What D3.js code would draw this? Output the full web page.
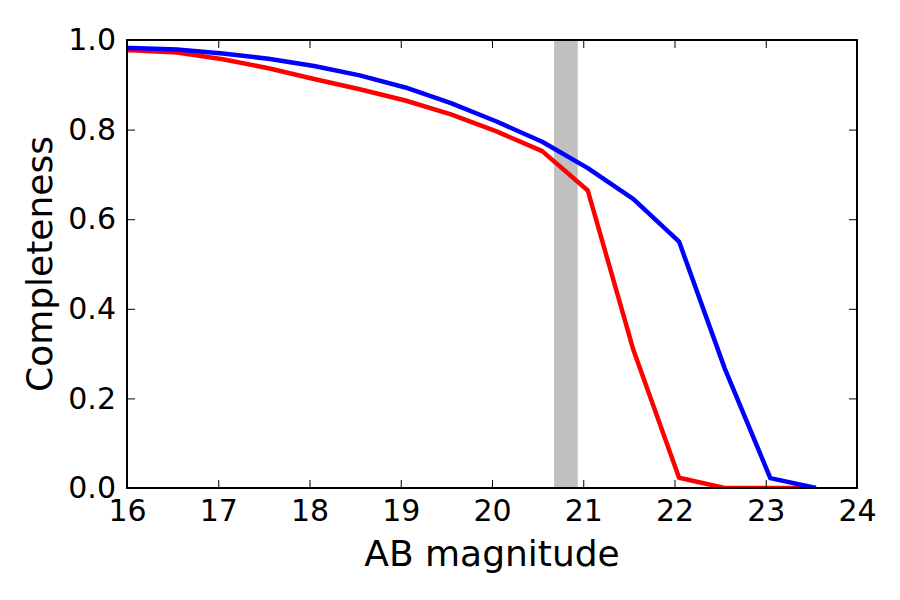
<!DOCTYPE html>
<html lang="en">
<head>
    <meta charset="utf-8">
    <title>Completeness</title>
    <script src="https://d3js.org/d3.v7.min.js"></script>
    <style>
        body { margin: 0; background: #fff; }
        text { font-family: "DejaVu Sans", sans-serif; fill: #000; }
    </style>
</head>
<body>
<svg width="900" height="600"></svg>
<script>
    // magnitude bins (the first one lies left of the axis and gets clipped)
    var mags = [15.55, 16.05, 16.55, 17.05, 17.55, 18.05, 18.55, 19.05, 19.55,
                20.05, 20.55, 21.05, 21.55, 22.05, 22.55, 23.05, 23.55];
    var redVals = [0.980, 0.977, 0.972, 0.957, 0.937, 0.913, 0.890, 0.865, 0.834,
                   0.796, 0.752, 0.664, 0.308, 0.023, 0.0, 0.0, 0.0];
    var blueVals = [0.985, 0.982, 0.979, 0.970, 0.958, 0.942, 0.921, 0.894, 0.859,
                    0.818, 0.773, 0.714, 0.645, 0.550, 0.267, 0.022, 0.0];
    var band = [20.68, 20.94];
    var xTicks = [16, 17, 18, 19, 20, 21, 22, 23, 24];
    var yTicks = [0.0, 0.2, 0.4, 0.6, 0.8, 1.0];

    var marge = {top: 40, left: 127, right: 43, bottom: 112};
    var width = 900 - marge.left - marge.right;
    var height = 600 - marge.top - marge.bottom;

    var svg = d3.select("svg");
    var g = svg.append("g")
        .attr("transform", "translate(" + marge.left + "," + marge.top + ")");

    var xScale = d3.scaleLinear().domain([16, 24]).range([0, width]);
    var yScale = d3.scaleLinear().domain([0, 1]).range([height, 0]);

    g.append("clipPath").attr("id", "clip")
        .append("rect").attr("width", width).attr("height", height);

    var plot = g.append("g").attr("clip-path", "url(#clip)");

    // grey band
    plot.append("rect")
        .attr("x", xScale(band[0]))
        .attr("y", 0)
        .attr("width", xScale(band[1]) - xScale(band[0]))
        .attr("height", height)
        .attr("fill", "#c0c0c0");

    var line = d3.line()
        .x(function(d, i){ return xScale(mags[i]); })
        .y(function(d){ return yScale(d); });

    plot.append("path").datum(redVals)
        .attr("d", line)
        .attr("fill", "none")
        .attr("stroke", "#ff0000")
        .attr("stroke-width", 4.5)
        .attr("stroke-linejoin", "round");

    plot.append("path").datum(blueVals)
        .attr("d", line)
        .attr("fill", "none")
        .attr("stroke", "#0000ff")
        .attr("stroke-width", 4.5)
        .attr("stroke-linejoin", "round");

    // axes, ticks pointing inwards, on all four sides
    var xAxis = d3.axisBottom(xScale).tickValues(xTicks).tickSize(-8)
        .tickFormat(d3.format("d"));
    var yAxis = d3.axisLeft(yScale).tickValues(yTicks).tickSize(-8).tickPadding(11)
        .tickFormat(d3.format(".1f"));
    var xTop = d3.axisTop(xScale).tickValues(xTicks).tickSize(-8).tickFormat("");
    var yRight = d3.axisRight(yScale).tickValues(yTicks).tickSize(-8).tickFormat("");

    var gx = g.append("g").attr("transform", "translate(0," + height + ")").call(xAxis);
    var gy = g.append("g").call(yAxis);
    var gt = g.append("g").call(xTop);
    var gr = g.append("g").attr("transform", "translate(" + width + ",0)").call(yRight);

    [gx, gy, gt, gr].forEach(function(a){
        a.select(".domain").remove();
        a.selectAll(".tick line").attr("stroke", "#000").attr("stroke-width", 1);
        a.selectAll("text").style("font-size", "30px").attr("font-family", null);
    });
    gx.selectAll(".tick text").attr("y", 33).attr("dy", null);

    // frame
    g.append("rect")
        .attr("width", width).attr("height", height)
        .attr("fill", "none").attr("stroke", "#000").attr("stroke-width", 2);

    // axis labels
    svg.append("text")
        .attr("x", marge.left + width / 2)
        .attr("y", 566)
        .attr("text-anchor", "middle")
        .style("font-size", "36px")
        .text("AB magnitude");

    svg.append("text")
        .attr("transform", "translate(52," + (marge.top + height / 2) + ") rotate(-90)")
        .attr("text-anchor", "middle")
        .style("font-size", "36px")
        .text("Completeness");
</script>
</body>
</html>
